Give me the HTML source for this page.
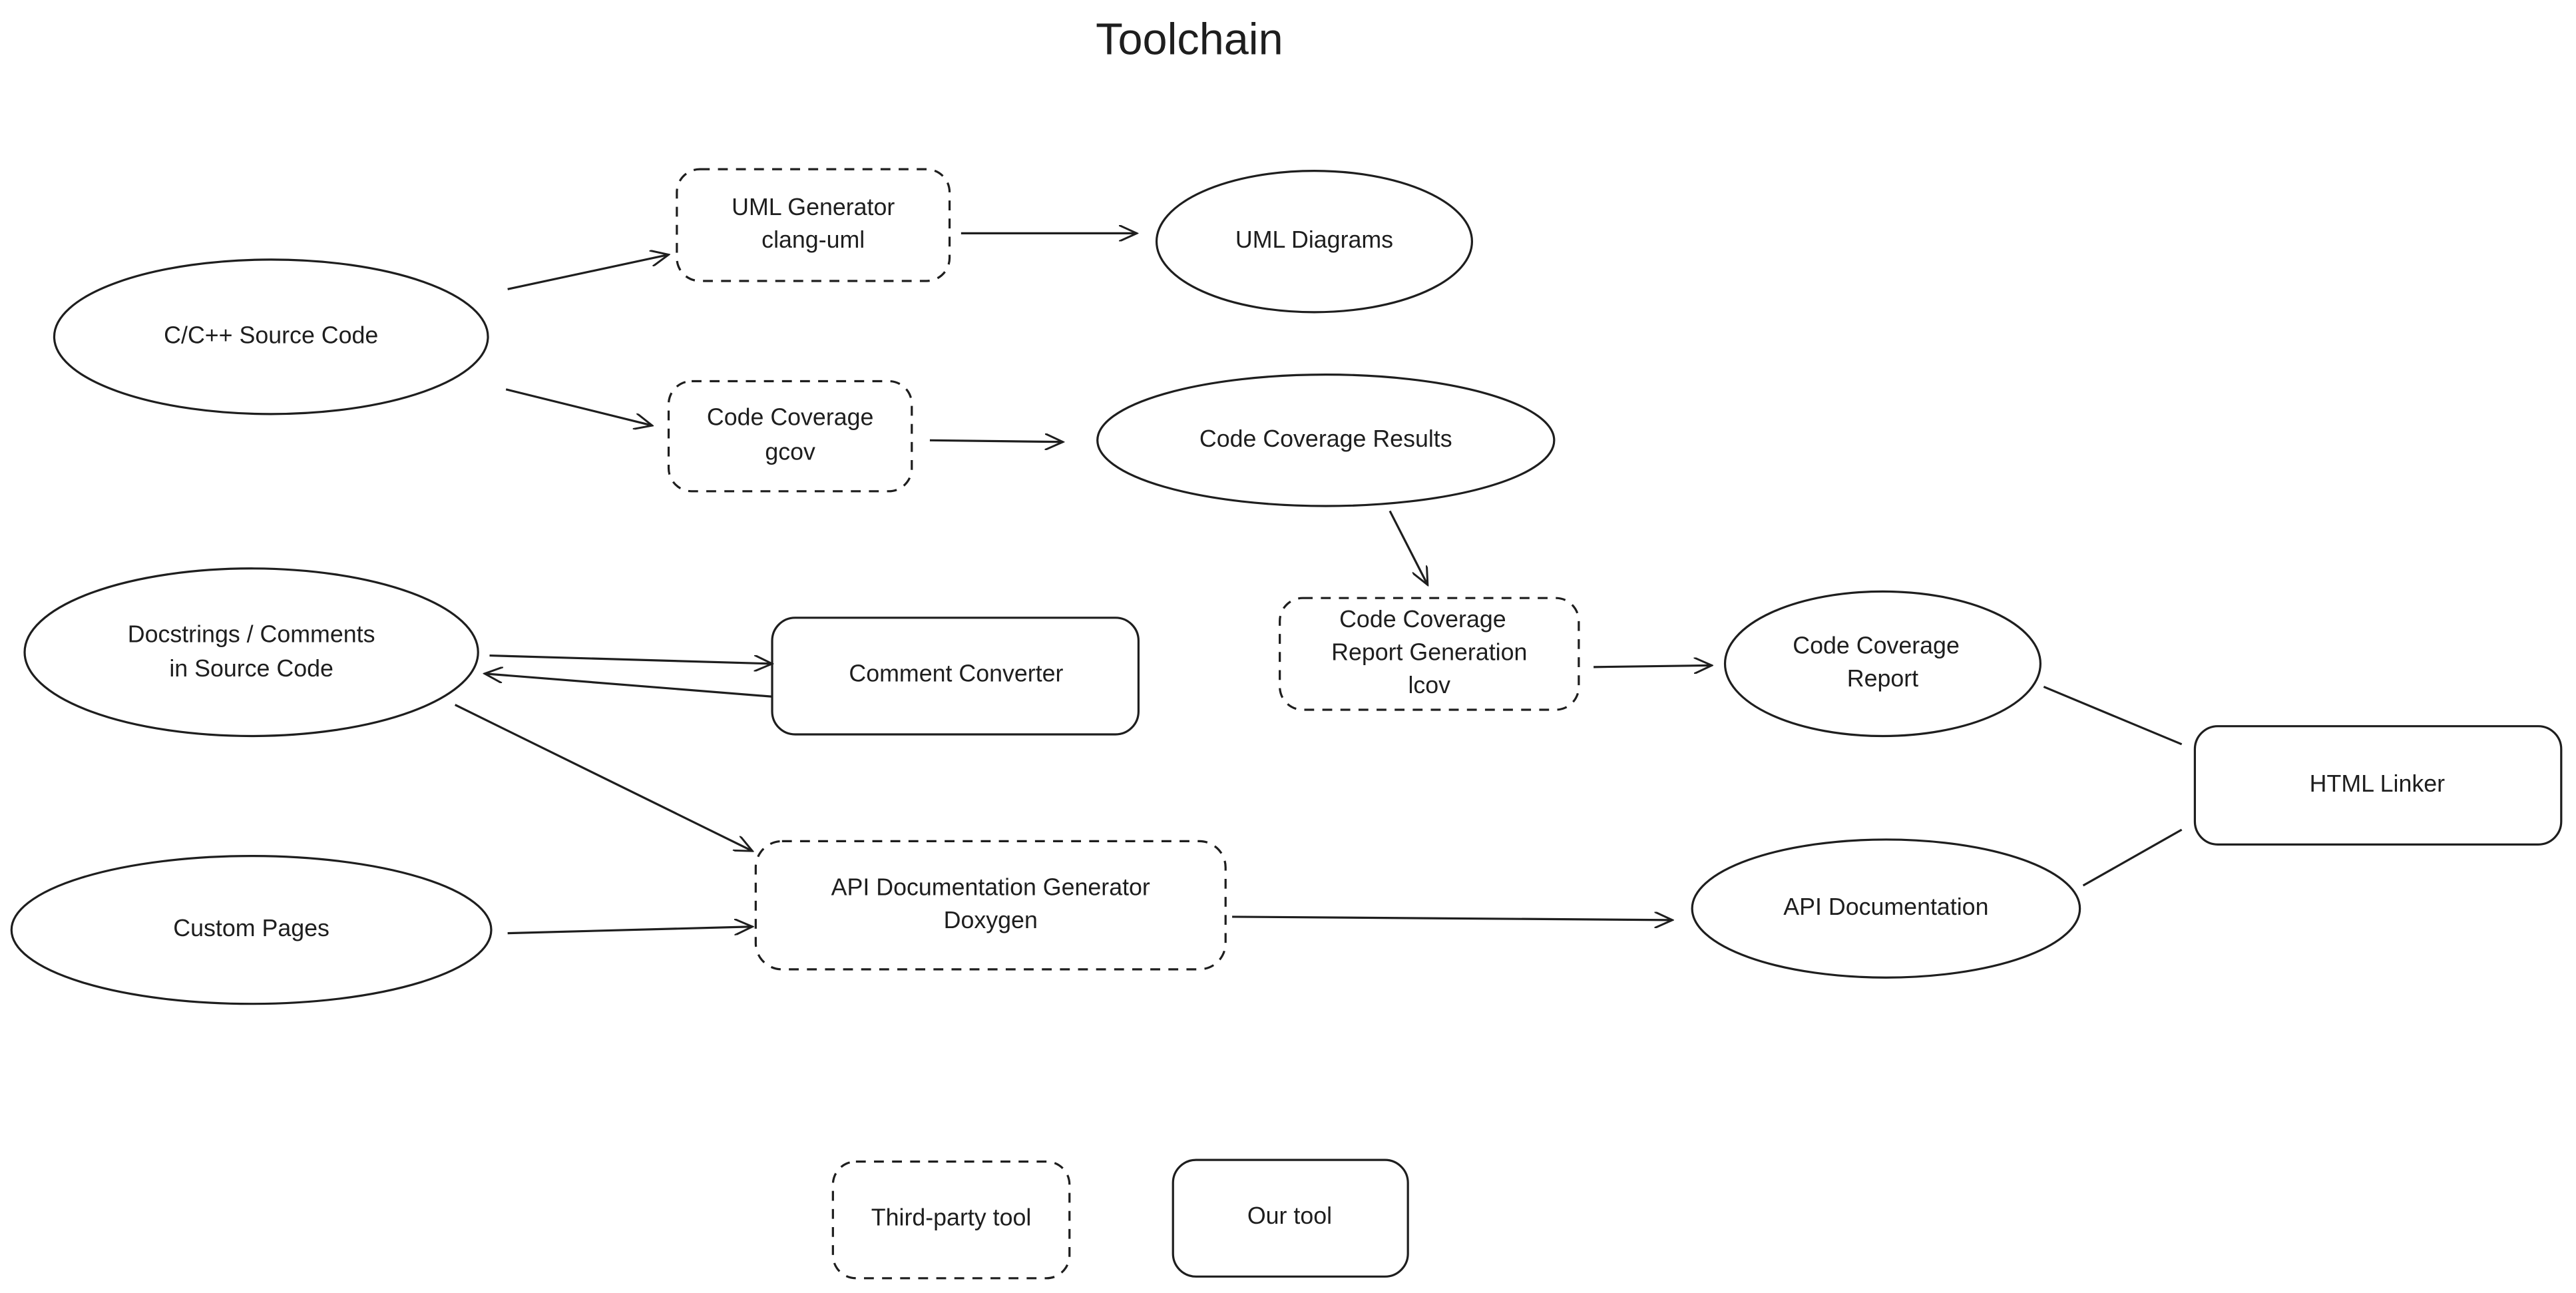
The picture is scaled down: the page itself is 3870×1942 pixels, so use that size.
<!DOCTYPE html>
<html><head><meta charset="utf-8"><style>
html,body{margin:0;padding:0;background:#fff;width:3870px;height:1942px;overflow:hidden}
svg{display:block}
text{font-family:"Liberation Sans",sans-serif;fill:#1e1e1e;text-anchor:middle;dominant-baseline:middle}
</style></head><body>
<svg width="3870" height="1942" viewBox="0 0 1568 787" preserveAspectRatio="none" xmlns="http://www.w3.org/2000/svg">
<defs><marker id="a" markerWidth="12" markerHeight="10" refX="11" refY="5" orient="auto" markerUnits="userSpaceOnUse"><path d="M0,0 L11,5 L0,10" fill="none" stroke="#1e1e1e" stroke-width="1.2"/></marker></defs>
<g fill="none" stroke="#1e1e1e" stroke-width="1.3">
<ellipse cx="165" cy="205" rx="132" ry="47"/>
<ellipse cx="800" cy="147" rx="96" ry="43"/>
<ellipse cx="807" cy="268" rx="139" ry="40"/>
<ellipse cx="1146" cy="404" rx="96" ry="44"/>
<ellipse cx="1148" cy="553" rx="118" ry="42"/>
<ellipse cx="153" cy="397" rx="138" ry="51"/>
<ellipse cx="153" cy="566" rx="146" ry="45"/>
<g stroke-dasharray="6 5">
<rect x="412" y="103" width="166" height="68" rx="14"/>
<rect x="407" y="232" width="148" height="67" rx="14"/>
<rect x="779" y="364" width="182" height="68" rx="14"/>
<rect x="460" y="512" width="286" height="78" rx="16"/>
<rect x="507" y="707" width="144" height="71" rx="14"/>
</g>
<rect x="1336" y="442" width="223" height="72" rx="14"/>
<rect x="470" y="376" width="223" height="71" rx="14"/>
<rect x="714" y="706" width="143" height="71" rx="14"/>
<g marker-end="url(#a)">
<line x1="309" y1="176" x2="407" y2="155"/>
<line x1="585" y1="142" x2="692" y2="142"/>
<line x1="308" y1="237" x2="397" y2="259"/>
<line x1="566" y1="268" x2="647" y2="269"/>
<line x1="846" y1="311" x2="869" y2="356"/>
<line x1="970" y1="406" x2="1042" y2="405"/>
<line x1="298" y1="399" x2="470" y2="404"/>
<line x1="470" y1="424" x2="295" y2="410"/>
<line x1="277" y1="429" x2="458" y2="518"/>
<line x1="309" y1="568" x2="458" y2="564"/>
<line x1="750" y1="558" x2="1018" y2="560"/>
</g>
<line x1="1244" y1="418" x2="1328" y2="453"/>
<line x1="1268" y1="539" x2="1328" y2="505"/>
</g>
<text x="724" y="26" font-size="27">Toolchain</text>
<g font-size="14.5">
<text x="165" y="205">C/C++ Source Code</text>
<text x="495" y="127">UML Generator</text>
<text x="495" y="147">clang-uml</text>
<text x="800" y="147">UML Diagrams</text>
<text x="481" y="255">Code Coverage</text>
<text x="481" y="276">gcov</text>
<text x="807" y="268">Code Coverage Results</text>
<text x="866" y="378">Code Coverage</text>
<text x="870" y="398">Report Generation</text>
<text x="870" y="418">lcov</text>
<text x="1142" y="394">Code Coverage</text>
<text x="1146" y="414">Report</text>
<text x="1447" y="478">HTML Linker</text>
<text x="1148" y="553">API Documentation</text>
<text x="153" y="387">Docstrings / Comments</text>
<text x="153" y="408">in Source Code</text>
<text x="582" y="411">Comment Converter</text>
<text x="153" y="566">Custom Pages</text>
<text x="603" y="541">API Documentation Generator</text>
<text x="603" y="561">Doxygen</text>
<text x="579" y="742">Third-party tool</text>
<text x="785" y="741">Our tool</text>
</g>
</svg>
</body></html>
